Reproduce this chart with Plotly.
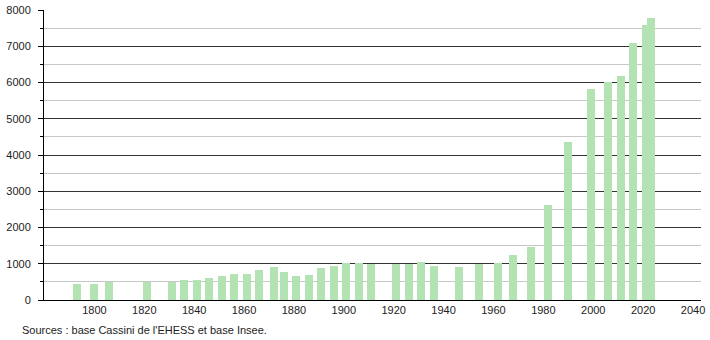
import plotly.graph_objects as go

years = [1793, 1800, 1806, 1821, 1831, 1836, 1841, 1846, 1851, 1856, 1861, 1866,
         1872, 1876, 1881, 1886, 1891, 1896, 1901, 1906, 1911, 1921, 1926, 1931,
         1936, 1946, 1954, 1962, 1968, 1975, 1982, 1990, 1999, 2006, 2011, 2016,
         2021, 2023]
population = [455, 450, 505, 485, 490, 565, 555, 605, 670, 720, 725, 828,
              920, 785, 665, 690, 892, 940, 1010, 1030, 995, 985, 995, 1045,
              940, 920, 985, 1030, 1240, 1470, 2620, 4350, 5820, 6020, 6180, 7080,
              7590, 7770]
x_ticks = [1800, 1820, 1840, 1860, 1880, 1900, 1920, 1940, 1960, 1980, 2000, 2020, 2040]
y_ticks = [0, 1000, 2000, 3000, 4000, 5000, 6000, 7000, 8000]
source_text = "Sources : base Cassini de l'EHESS et base Insee."

FONT = "Liberation Sans, Arial, sans-serif"

fig = go.Figure()
fig.add_trace(go.Bar(
    x=years, y=population, width=3.2,
    marker=dict(color="#b3e3b3", line=dict(width=0)),
    hoverinfo="x+y",
))

fig.update_layout(
    template="none",
    width=710, height=340,
    margin=dict(l=44, r=9, t=10, b=40, autoexpand=False),
    paper_bgcolor="white", plot_bgcolor="white",
    showlegend=False,
    font=dict(family=FONT, size=11, color="#222"),
    bargap=0,
    xaxis=dict(
        range=[1779.8, 2043.2], tickvals=x_ticks, ticktext=[str(v) for v in x_ticks],
        showgrid=False, zeroline=False, automargin=False,
        showline=True, linecolor="#000", linewidth=1,
        ticks="", tickfont=dict(size=11, family=FONT, color="#222"),
    ),
    yaxis=dict(
        range=[0, 8000], tickvals=y_ticks, ticktext=[str(v) for v in y_ticks],
        showgrid=True, gridcolor="#333", gridwidth=1,
        zeroline=False, automargin=False,
        showline=True, linecolor="#000", linewidth=1,
        ticks="outside", ticklen=5, tickcolor="#000",
        ticklabelstandoff=5,
        tickfont=dict(size=11, family=FONT, color="#222"),
        minor=dict(dtick=500, tick0=0, showgrid=True, gridcolor="#c8c8c8", gridwidth=1,
                   ticks="outside", ticklen=3, tickcolor="#000"),
    ),
)

fig.add_annotation(
    text=source_text, xref="paper", yref="paper",
    x=-24 / 657, y=-30 / 290, xanchor="left", yanchor="middle",
    showarrow=False, font=dict(size=11, family=FONT, color="#222"),
)

fig.write_html("out.html")
